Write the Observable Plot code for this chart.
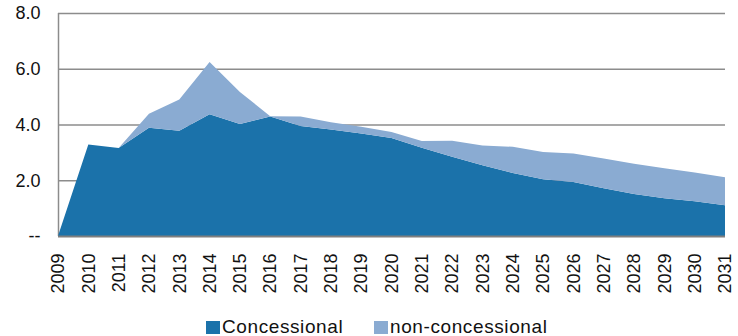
<!DOCTYPE html>
<html>
<head>
<meta charset="utf-8">
<script src="https://cdn.jsdelivr.net/npm/d3@7"></script>
<script src="https://cdn.jsdelivr.net/npm/@observablehq/plot@0.6"></script>
<style>
  html, body { margin: 0; padding: 0; background: #fff; }
  #wrap { position: relative; width: 738px; height: 336px; font-family: "Liberation Sans", Arial, sans-serif; }
  #legend { position: absolute; left: 0; top: 316px; width: 738px; height: 20px; }
  .item { position: absolute; top: 0; display: flex; align-items: center; font-size: 19px; letter-spacing: 0.6px; color: #111; }
  .sw { width: 14px; height: 13px; margin-right: 2px; }
</style>
</head>
<body>
<div id="wrap"></div>
<script>
// Years on the horizontal axis
const years = d3.range(2009, 2032);

// Disbursements by type (stacked)
const concessional = [0, 3.28, 3.16, 3.88, 3.78, 4.37, 4.02, 4.29, 3.95, 3.82, 3.68, 3.52,
  3.17, 2.84, 2.54, 2.26, 2.04, 1.94, 1.71, 1.51, 1.35, 1.25, 1.10];
const nonConcessional = [0, 0, 0, 0.51, 1.12, 1.87, 1.15, 0.01, 0.34, 0.26, 0.24, 0.21,
  0.24, 0.58, 0.71, 0.94, 0.97, 1.02, 1.07, 1.08, 1.08, 1.03, 1.01];

const seriesNames = ["Concessional", "non-concessional"];
const seriesColors = ["#1b72aa", "#8aabd2"];
const yTicks = [0, 2, 4, 6, 8];

const rows = [];
years.forEach((yr, i) => {
  rows.push({year: yr, type: seriesNames[0], value: concessional[i]});
  rows.push({year: yr, type: seriesNames[1], value: nonConcessional[i]});
});

const chart = Plot.plot({
  width: 738,
  height: 300,
  marginTop: 13,
  marginBottom: 64,
  marginLeft: 58,
  marginRight: 13,
  style: {fontFamily: "Liberation Sans, Arial, sans-serif", fontSize: "18px", color: "#111", background: "#fff"},
  x: {domain: [2009, 2031], label: null},
  y: {domain: [0, 8], label: null},
  color: {domain: seriesNames, range: seriesColors},
  marks: [
    Plot.gridY(yTicks.filter(d => d > 0), {stroke: "#8c8c8c", strokeOpacity: 1, strokeWidth: 1.5}),
    Plot.ruleX([2009], {stroke: "#8c8c8c", strokeWidth: 1.5}),
    Plot.areaY(rows, Plot.stackY({x: "year", y: "value", fill: "type", order: seriesNames})),
    Plot.ruleY([0], {stroke: "#7f7f7f", strokeWidth: 2}),
    Plot.axisY({ticks: yTicks, tickSize: 0, tickPadding: 18, fontSize: 18,
      tickFormat: d => d === 0 ? "--" : d.toFixed(1)}),
    Plot.axisX({ticks: years, tickSize: 0, tickPadding: 17, tickRotate: -90, fontSize: 18,
      tickFormat: d => String(d)})
  ]
});

const wrap = document.getElementById("wrap");
wrap.appendChild(chart);

const legend = document.createElement("div");
legend.id = "legend";
const lefts = [206, 374];
seriesNames.forEach((name, i) => {
  const item = document.createElement("div");
  item.className = "item";
  item.style.left = lefts[i] + "px";
  const sw = document.createElement("span");
  sw.className = "sw";
  sw.style.background = seriesColors[i];
  const label = document.createElement("span");
  label.textContent = name;
  item.appendChild(sw);
  item.appendChild(label);
  legend.appendChild(item);
});
wrap.appendChild(legend);
</script>
</body>
</html>
